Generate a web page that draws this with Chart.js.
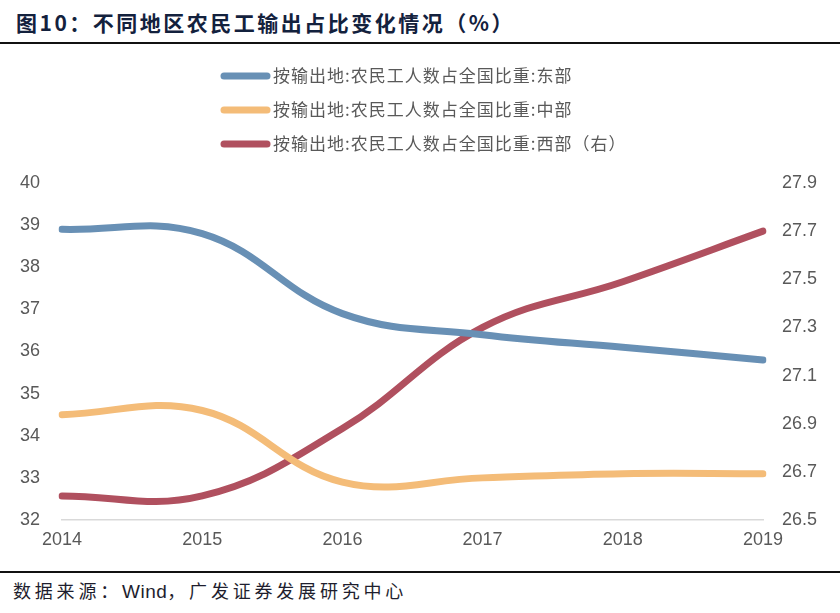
<!DOCTYPE html>
<html><head><meta charset="utf-8">
<script src="https://cdn.jsdelivr.net/npm/chart.js@4.4.1/dist/chart.umd.min.js"></script>
<style>
html,body{margin:0;padding:0;background:#fff;width:840px;height:613px;overflow:hidden;}
#title{position:absolute;left:16px;top:7px;font:bold 21px "Noto Sans CJK SC",sans-serif;color:#13213d;letter-spacing:2.5px;white-space:nowrap;line-height:30px}
#tline{position:absolute;left:0;top:42px;width:840px;height:2px;background:#111}
#wrap{position:absolute;left:0;top:50px;width:840px;height:510px}
#fline{position:absolute;left:0;top:571px;width:840px;height:2px;background:#111}
#foot{position:absolute;left:13px;top:577px;font:18px "Noto Sans CJK SC",sans-serif;color:#1e1e2e;letter-spacing:3.8px;white-space:nowrap;line-height:26px}
#foot span{letter-spacing:0.5px;font-family:"Liberation Sans",Arial,sans-serif;font-size:19px}
</style></head>
<body>
<div id="title">图10：不同地区农民工输出占比变化情况（%）</div>
<div id="tline"></div>
<div id="wrap"><canvas id="c" width="840" height="510"></canvas></div>
<div id="fline"></div>
<div id="foot">数据来源：<span>Wind</span>，广发证券发展研究中心</div>
<script>
const years = ['2014','2015','2016','2017','2018','2019'];
const eastShare = [38.9, 38.8, 36.9, 36.4, 36.1, 35.8];
const centralShare = [34.5, 34.6, 32.9, 33.0, 33.1, 33.1];
const westShare = [26.6, 26.6, 26.88, 27.3, 27.49, 27.7];
const leftTicks = [32, 33, 34, 35, 36, 37, 38, 39, 40];
const rightTicks = [26.5, 26.7, 26.9, 27.1, 27.3, 27.5, 27.7, 27.9];
const seriesLabels = ['按输出地:农民工人数占全国比重:东部', '按输出地:农民工人数占全国比重:中部', '按输出地:农民工人数占全国比重:西部（右）'];
const seriesColors = ['#6890B5', '#F4BC78', '#B0505F'];

const legendPlugin = {
  id: 'customLegend',
  afterDraw(chart) {
    const ctx = chart.ctx;
    ctx.save();
    chart.data.datasets.forEach((ds, i) => {
      const y = 26 + i * 34;
      ctx.strokeStyle = ds.borderColor;
      ctx.lineWidth = 7;
      ctx.lineCap = 'round';
      ctx.beginPath();
      ctx.moveTo(224, y);
      ctx.lineTo(267, y);
      ctx.stroke();
      ctx.fillStyle = '#595959';
      ctx.font = '17px "Noto Sans CJK SC", sans-serif';
      ctx.textBaseline = 'middle';
      let x = 273;
      for (const ch of ds.label) {
        ctx.fillText(ch, x, y);
        x += ctx.measureText(ch).width + 1;
      }
    });
    ctx.restore();
  }
};

const tickFont = {family: '"Liberation Sans", Arial, sans-serif', size: 18};
new Chart(document.getElementById('c'), {
  type: 'line',
  data: {
    labels: years,
    datasets: [
      {label: seriesLabels[0], data: eastShare, borderColor: seriesColors[0], yAxisID: 'y'},
      {label: seriesLabels[1], data: centralShare, borderColor: seriesColors[1], yAxisID: 'y'},
      {label: seriesLabels[2], data: westShare, borderColor: seriesColors[2], yAxisID: 'y1'}
    ]
  },
  options: {
    responsive: false,
    animation: false,
    layout: {padding: {top: 133, left: 0, right: 0, bottom: 0}},
    elements: {
      line: {borderWidth: 7, tension: 0.4, borderCapStyle: 'round', borderJoinStyle: 'round', fill: false},
      point: {radius: 0, hoverRadius: 0}
    },
    plugins: {legend: {display: false}, tooltip: {enabled: false}, title: {display: false}},
    scales: {
      x: {
        offset: false,
        grid: {display: false, drawTicks: false},
        border: {display: true, color: '#d9d9d9', width: 1.5},
        ticks: {color: '#595959', font: tickFont, padding: 9, maxRotation: 0},
        afterFit(s) { s.height = 40; }
      },
      y: {
        position: 'left',
        min: leftTicks[0], max: leftTicks[leftTicks.length - 1],
        grid: {display: false, drawTicks: false},
        border: {display: false},
        ticks: {stepSize: 1, color: '#595959', font: tickFont, padding: 22, callback: v => String(Math.round(v))},
        afterFit(s) { s.width = 62; }
      },
      y1: {
        position: 'right',
        min: rightTicks[0], max: rightTicks[rightTicks.length - 1],
        grid: {display: false, drawTicks: false},
        border: {display: false},
        ticks: {stepSize: 0.2, color: '#595959', font: tickFont, padding: 19, callback: v => Number(v).toFixed(1)},
        afterFit(s) { s.width = 77; }
      }
    }
  },
  plugins: [legendPlugin]
});
</script>
</body></html>
